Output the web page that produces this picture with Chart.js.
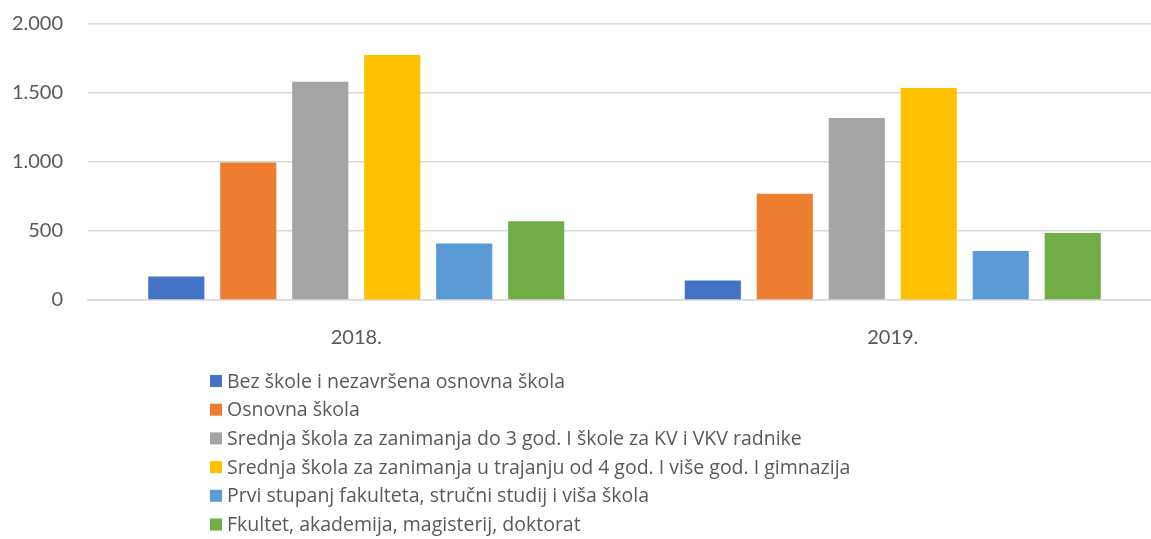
<!DOCTYPE html>
<html>
<head>
<meta charset="utf-8">
<script src="https://cdn.jsdelivr.net/npm/chart.js@4/dist/chart.umd.min.js"></script>
<style>
  html, body { margin: 0; padding: 0; background: #fff; overflow: hidden; }
  #okvir { width: 1161px; height: 539px; }
</style>
</head>
<body>
<div id="okvir"><canvas id="grafikon" width="1161" height="539"></canvas></div>
<script>
const godine = ['2018.', '2019.'];

const bezSkole = [171, 142];
const osnovnaSkola = [997, 770];
const srednja3god = [1582, 1319];
const srednja4god = [1775, 1536];
const prviStupanj = [410, 355];
const fakultet = [570, 486];

const nazivi = [
    'Bez škole i nezavršena osnovna škola',
    'Osnovna škola',
    'Srednja škola za zanimanja do 3 god. I škole za KV i VKV radnike',
    'Srednja škola za zanimanja u trajanju od 4 god. I više god. I gimnazija',
    'Prvi stupanj fakulteta, stručni studij i viša škola',
    'Fkultet, akademija, magisterij, doktorat'
];
const boje = ['#4472C4', '#ED7D31', '#A5A5A5', '#FFC000', '#5B9BD5', '#70AD47'];
const vrijednosti = [bezSkole, osnovnaSkola, srednja3god, srednja4god, prviStupanj, fakultet];

const yOznake = [0, 500, 1000, 1500, 2000];

function tocke(v) {
    return String(v).replace(/\B(?=(\d{3})+(?!\d))/g, '.');
}

// legenda ispod grafa, jedna stavka po retku
const legendaDolje = {
    id: 'legendaDolje',
    afterDraw(chart) {
        const ctx = chart.ctx;
        ctx.save();
        ctx.font = '19.5px "Open Sans"';
        ctx.textBaseline = 'middle';
        chart.data.datasets.forEach((ds, i) => {
            const y = 381 + i * 28.7;
            ctx.fillStyle = ds.backgroundColor;
            ctx.fillRect(210, y - 6, 12, 12);
            ctx.fillStyle = '#595959';
            ctx.fillText(ds.label, 227, y + 1);
        });
        ctx.restore();
    }
};

const ctx = document.getElementById('grafikon').getContext('2d');

new Chart(ctx, {
    type: 'bar',
    data: {
        labels: godine,
        datasets: vrijednosti.map((podaci, i) => ({
            label: nazivi[i],
            data: podaci,
            backgroundColor: boje[i],
            borderWidth: 0,
            categoryPercentage: 0.805,
            barPercentage: 0.78
        }))
    },
    options: {
        responsive: false,
        animation: false,
        layout: { autoPadding: false, padding: { top: 24, left: 12, right: 0, bottom: 179 } },
        plugins: {
            legend: { display: false },
            tooltip: { enabled: false }
        },
        scales: {
            x: {
                grid: { display: false },
                border: { color: '#d9d9d9', width: 1.5 },
                ticks: { color: '#595959', font: { family: 'Lato', size: 20 }, padding: 18 },
                afterFit: s => { s.height = 60; }
            },
            y: {
                min: 0,
                max: 2000,
                afterBuildTicks: s => { s.ticks = yOznake.map(v => ({ value: v })); },
                grid: { color: '#d9d9d9', lineWidth: 1.5, drawTicks: false },
                border: { display: false },
                ticks: {
                    color: '#595959',
                    font: { family: 'Lato', size: 20 },
                    padding: 25,
                    callback: v => tocke(v)
                },
                afterFit: s => { s.width = 76; s.paddingTop = 0; s.paddingBottom = 0; }
            }
        }
    },
    plugins: [legendaDolje]
});
</script>
</body>
</html>
